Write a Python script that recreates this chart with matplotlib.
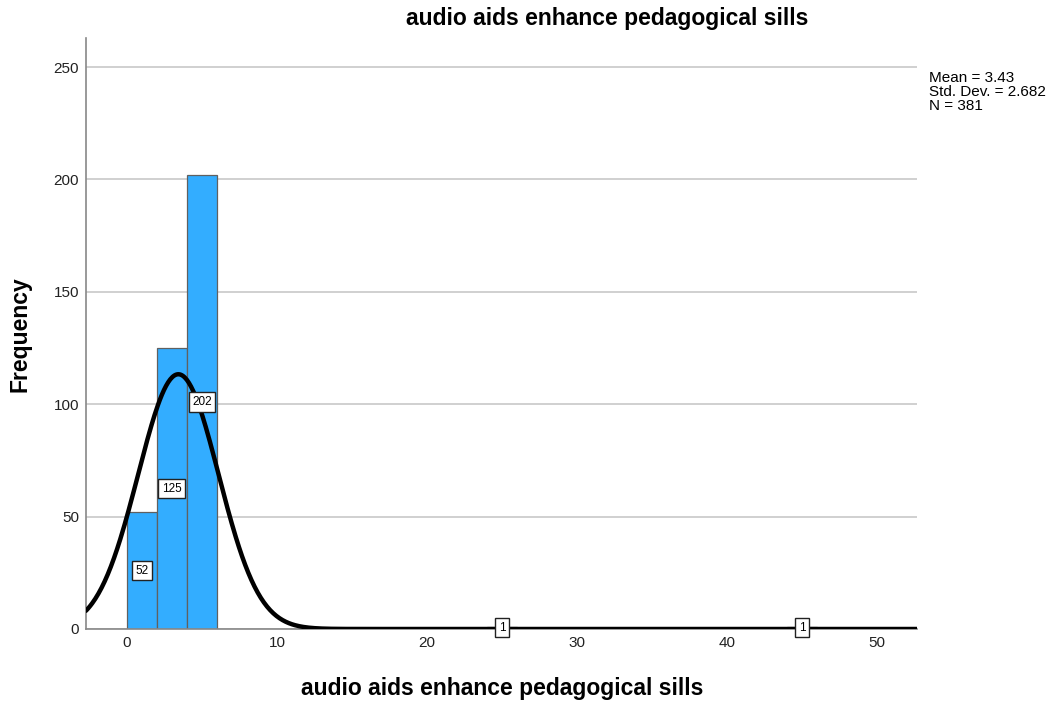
import numpy as np
import matplotlib
matplotlib.use("Agg")
import matplotlib.pyplot as plt

# histogram data (bin width 2)
bin_left = [0, 2, 4, 24, 44]
counts = [52, 125, 202, 1, 1]
BIN_W = 2
MEAN = 3.43
STD = 2.682
N = 381
title = "audio aids enhance pedagogical sills"

plt.rcParams['font.family'] = ['Liberation Sans', 'DejaVu Sans']

fig = plt.figure(figsize=(10.52, 7.02), dpi=100)
ax = fig.add_axes([0.0817, 0.104, 0.79, 0.842])

ax.bar(bin_left, counts, width=BIN_W, align='edge', color='#33adff',
       edgecolor='#606060', linewidth=0.9, zorder=2)

xs = np.linspace(-2.73, 52.7, 800)
ys = N * BIN_W * np.exp(-0.5 * ((xs - MEAN) / STD) ** 2) / (STD * np.sqrt(2 * np.pi))
ax.plot(xs, ys, color='black', linewidth=3.2, zorder=3, solid_capstyle='round')

for l, c in zip(bin_left, counts):
    ax.text(l + BIN_W / 2, c / 2, str(c), ha='center', va='center', fontsize=8.5,
            zorder=4, bbox=dict(boxstyle='square,pad=0.3', fc='white', ec='#222222', lw=1.0))

ax.set_xlim(-2.73, 52.67)
ax.set_ylim(0, 263)
ax.set_xticks([0, 10, 20, 30, 40, 50])
ax.set_yticks([0, 50, 100, 150, 200, 250])
ax.yaxis.grid(True, color='#c8c8c8', linewidth=1.2, zorder=0)
ax.set_axisbelow(True)
for s in ['top', 'right']:
    ax.spines[s].set_visible(False)
for s in ['left', 'bottom']:
    ax.spines[s].set_color('#888888')
    ax.spines[s].set_linewidth(1.2)
ax.tick_params(length=0, labelsize=11, colors='#222222', pad=5)

fig.text(0.577, 0.974, title, fontsize=16.5, fontweight='bold', ha='center', va='center')
fig.text(0.477, 1 - 689 / 702, title, fontsize=16.5, fontweight='bold', ha='center', va='center')
fig.text(20 / 1052, 1 - 334 / 702, "Frequency", fontsize=16.5, fontweight='bold',
         ha='center', va='center', rotation=90)

fig.text(0.883, 1 - 92 / 702, "Mean = 3.43\nStd. Dev. = 2.682\nN = 381", fontsize=11,
         va='center', ha='left', linespacing=1.02)

fig.savefig("out.png", dpi=100, facecolor='white')
